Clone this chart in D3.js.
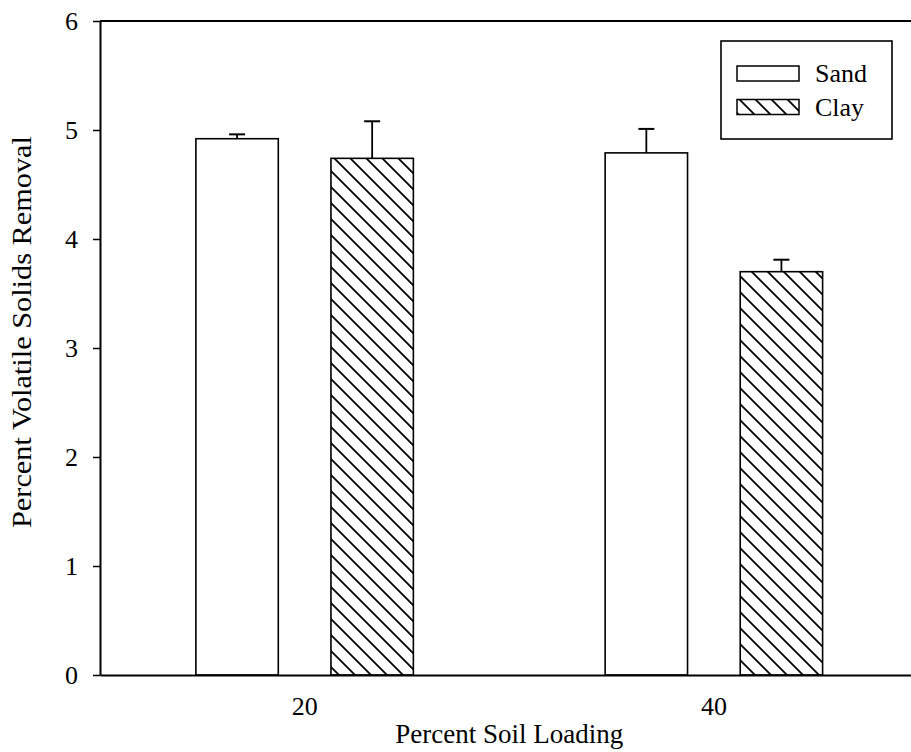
<!DOCTYPE html>
<html>
<head>
<meta charset="utf-8">
<script src="https://cdn.jsdelivr.net/npm/d3@7"></script>
<style>
  html, body { margin: 0; padding: 0; background: #fff; }
  svg { display: block; }
  text { font-family: "Liberation Serif", "Times New Roman", serif; fill: #000; }
</style>
</head>
<body>
<svg id="chart" width="911" height="752"></svg>
<script>
// ---- data ----
const categories = ["20", "40"];
const series = ["Sand", "Clay"];
const sandValues = [4.92, 4.79];
const clayValues = [4.74, 3.70];
const sandErrors = [0.04, 0.22];
const clayErrors = [0.34, 0.11];
const yTicks = [0, 1, 2, 3, 4, 5, 6];
const xTitle = "Percent Soil Loading";
const yTitle = "Percent Volatile Solids Removal";

// ---- layout ----
const plotLeft = 100, plotRight = 918.5, plotTop = 21, plotBottom = 675;

const svg = d3.select("#chart");

const defs = svg.append("defs");
const pat = defs.append("pattern")
  .attr("id", "hatch")
  .attr("patternUnits", "userSpaceOnUse")
  .attr("width", 16).attr("height", 16);
pat.append("rect").attr("width", 16).attr("height", 16).attr("fill", "#fff");
pat.append("path")
  .attr("d", "M-4,-4 L20,20 M-4,12 L4,20 M12,-4 L20,4")
  .attr("stroke", "#000").attr("stroke-width", 1.8);

const x = d3.scaleBand().domain(categories).range([plotLeft, plotRight]).padding(0);
const xSub = d3.scaleBand().domain(series).range([0, x.bandwidth()])
  .paddingInner(0.39).paddingOuter(0.71);
const y = d3.scaleLinear().domain([0, 6]).range([plotBottom, plotTop]);

const rows = [];
categories.forEach((c, i) => {
  rows.push({ cat: c, s: "Sand", v: sandValues[i], e: sandErrors[i] });
  rows.push({ cat: c, s: "Clay", v: clayValues[i], e: clayErrors[i] });
});
const fillFor = s => s === "Sand" ? "#fff" : "url(#hatch)";

// top frame line
svg.append("line")
  .attr("x1", plotLeft).attr("x2", plotRight)
  .attr("y1", y(6)).attr("y2", y(6))
  .attr("stroke", "#000").attr("stroke-width", 2);

// error bars
const eb = svg.append("g");
rows.forEach(r => {
  const cx = x(r.cat) + xSub(r.s) + xSub.bandwidth() / 2;
  eb.append("line")
    .attr("x1", cx).attr("x2", cx)
    .attr("y1", y(r.v)).attr("y2", y(r.v + r.e))
    .attr("stroke", "#000").attr("stroke-width", 1.8);
  eb.append("line")
    .attr("x1", cx - 8).attr("x2", cx + 8)
    .attr("y1", y(r.v + r.e)).attr("y2", y(r.v + r.e))
    .attr("stroke", "#000").attr("stroke-width", 2);
});

// bars
svg.append("g").selectAll("rect").data(rows).join("rect")
  .attr("x", d => x(d.cat) + xSub(d.s))
  .attr("width", xSub.bandwidth())
  .attr("y", d => y(d.v))
  .attr("height", d => y(0) - y(d.v))
  .attr("fill", d => fillFor(d.s))
  .attr("stroke", "#000").attr("stroke-width", 1.6);

// y axis
const yAxis = svg.append("g")
  .attr("transform", `translate(${plotLeft},0)`)
  .call(d3.axisLeft(y).tickValues(yTicks).tickFormat(d3.format("d"))
    .tickSize(7).tickSizeOuter(0).tickPadding(15));
yAxis.select(".domain").attr("stroke", "#000").attr("stroke-width", 2);
yAxis.selectAll(".tick line").attr("stroke", "#000").attr("stroke-width", 1.5);
yAxis.selectAll("text").attr("font-size", 26)
  .attr("font-family", "'Liberation Serif', 'Times New Roman', serif");

// x axis
const xAxis = svg.append("g")
  .attr("transform", `translate(0,${plotBottom})`)
  .call(d3.axisBottom(x).tickSize(0).tickSizeOuter(0).tickPadding(22));
xAxis.select(".domain").attr("stroke", "#000").attr("stroke-width", 2);
xAxis.selectAll("text").attr("font-size", 26)
  .attr("font-family", "'Liberation Serif', 'Times New Roman', serif");

// axis titles
svg.append("text")
  .attr("x", (plotLeft + plotRight) / 2).attr("y", 743)
  .attr("text-anchor", "middle")
  .attr("font-size", 27)
  .text(xTitle);

svg.append("text")
  .attr("transform", `translate(31,332) rotate(-90)`)
  .attr("text-anchor", "middle")
  .attr("font-size", 27)
  .attr("textLength", 392)
  .attr("lengthAdjust", "spacingAndGlyphs")
  .text(yTitle);

// legend
const lg = svg.append("g");
lg.append("rect")
  .attr("x", 721).attr("y", 41).attr("width", 171).attr("height", 98)
  .attr("fill", "#fff").attr("stroke", "#000").attr("stroke-width", 1.6);
series.forEach((s, i) => {
  const yy = 66 + i * 33.5;
  lg.append("rect")
    .attr("x", 737).attr("y", yy).attr("width", 62).attr("height", 15)
    .attr("fill", fillFor(s)).attr("stroke", "#000").attr("stroke-width", 1.5);
  lg.append("text")
    .attr("x", 815).attr("y", yy + 16)
    .attr("font-size", 26)
    .text(s);
});
</script>
</body>
</html>
